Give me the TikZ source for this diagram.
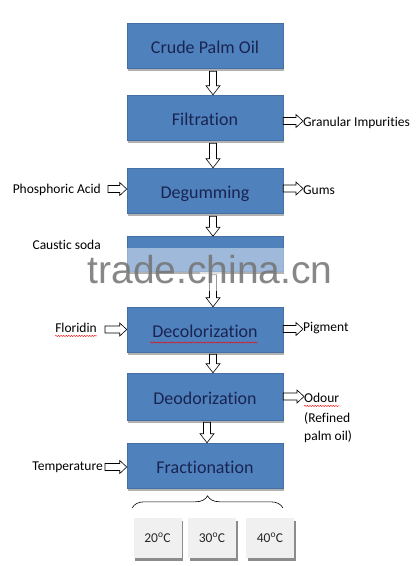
\documentclass[tikz,border=0pt]{standalone}
\usepackage{fontspec}
\setmainfont{Carlito}[Ligatures={NoCommon}]
\newfontfamily\wmfont{Liberation Sans}
\usetikzlibrary{shadows,decorations.pathreplacing,decorations.pathmorphing,calc}
\definecolor{boxblue}{RGB}{79,129,189}
\definecolor{boxedge}{RGB}{68,112,165}
\definecolor{boxtext}{RGB}{26,36,82}
\definecolor{tgray}{RGB}{240,240,240}
\newcommand\varr[2]{\draw[blockarrow] let \p1=(#1), \p2=(#2) in
  (\x1-3.5pt,\y1) -- (\x1-3.5pt,\y2+9pt) -- (\x1-7pt,\y2+9pt) -- (\x1,\y2) --
  (\x1+7pt,\y2+9pt) -- (\x1+3.5pt,\y2+9pt) -- (\x1+3.5pt,\y1) -- cycle;}
\newcommand\harr[2]{\draw[blockarrow] let \p1=(#1), \p2=(#2) in
  (\x1,\y1+3.5pt) -- (\x2-7pt,\y1+3.5pt) -- (\x2-7pt,\y1+6.5pt) -- (\x2,\y1) --
  (\x2-7pt,\y1-6.5pt) -- (\x2-7pt,\y1-3.5pt) -- (\x1,\y1-3.5pt) -- cycle;}
\begin{document}
\begin{tikzpicture}[x=1pt,y=-1pt,
  stage/.style={draw=boxedge, line width=0.5pt, fill=boxblue, minimum width=156pt,
    minimum height=45pt, inner sep=0pt, text=boxtext, font=\fontsize{18}{20}\selectfont,
    text height=19pt, text depth=4pt,
    drop shadow={shadow xshift=1.2pt, shadow yshift=-2.5pt, fill=black, opacity=0.3}},
  lab/.style={font=\fontsize{13.5}{15}\selectfont, inner sep=0pt, text=black},
  tbox/.style={fill=tgray, minimum width=48pt, minimum height=40pt, inner sep=0pt,
    font=\fontsize{13.5}{15}\selectfont, text=black!85,
    drop shadow={shadow xshift=1.5pt, shadow yshift=-3pt, fill=black, opacity=0.45}},
  blockarrow/.style={draw=black, fill=white, line width=0.6pt, line join=miter},
  spell/.style={draw=red, line width=0.4pt, decorate,
    decoration={snake, amplitude=0.6pt, segment length=2.6pt}}]
\useasboundingbox (0,0) rectangle (418,566);
\fill[white] (0,0) rectangle (418,566);

% main stages
\node[stage] (cpo)   at (205,45.5)  {Crude Palm Oil};
\node[stage] (filt)  at (205,117.5) {Filtration};
\node[stage] (deg)   at (205,190.5) {Degumming};
\node[stage, minimum height=35pt] (caus) at (205,254) {};
\node[stage] (decol) at (205,329.5) {Decolorization};
\node[stage, minimum height=47pt] (deod) at (205,396.5) {Deodorization};
\node[stage] (frac)  at (205,465.5) {Fractionation};

% side labels
\node[lab, anchor=west] (gi)   at (303,123) {Granular Impurities};
\node[lab, anchor=west] (gums) at (303,190) {Gums};
\node[lab, anchor=east] (pa)   at (101,190) {Phosphoric Acid};
\node[lab, anchor=east] (cs)   at (101,245) {Caustic soda};
\node[lab, anchor=east] (flo)  at (97,328)  {Floridin};
\node[lab, anchor=west] (pig)  at (303,328) {Pigment};
\node[lab, anchor=west] (od)   at (304,398) {Odour};
\node[lab, anchor=west] (ref1) at (304,418) {(Refined};
\node[lab, anchor=west] (ref2) at (304,437) {palm oil)};
\node[lab, anchor=east] (temp) at (103,467) {Temperature};

% vertical flow arrows
\varr{$(cpo.south)+(8,3)$}{$(filt.north)+(8,0)$}
\varr{$(filt.south)+(8,3)$}{$(deg.north)+(8,0)$}
\varr{$(deg.south)+(8,3)$}{$(caus.north)+(8,0)$}
\varr{$(caus.south)+(8,3)$}{$(decol.north)+(8,0)$}
\varr{$(decol.south)+(8,2)$}{$(deod.north)+(8,0)$}
\varr{$(deod.south)+(2,2)$}{$(frac.north)+(2,0)$}

% horizontal arrows
\harr{$(filt.east)+(0,3.5)$}{gi.west}
\harr{$(deg.east)+(0,-2)$}{gums.west}
\harr{$(pa.east |- deg.west)+(7,-1.5)$}{deg.west}
\harr{$(flo.east |- decol.west)+(8,0)$}{decol.west}
\harr{$(decol.east)+(0,-0.5)$}{pig.west}
\harr{deod.east}{od.west}
\harr{$(temp.east |- frac.west)+(2,1.5)$}{frac.west}

% spelling underlines
\draw[spell] ($(flo.south west)+(0,3)$) -- ($(flo.south east)+(0,3)$);
\draw[spell] ($(decol.center)+(-55,13)$) -- ($(decol.center)+(53,13)$);
\draw[spell] ($(od.south west)+(0,3)$) -- ($(od.south east)+(0,3)$);

% temperature fractions
\node[tbox] (t20) at (157.5,538) {20\textsuperscript{o}C};
\node[tbox] (t30) at (212,538)   {30\textsuperscript{o}C};
\node[tbox] (t40) at (270,538)   {40\textsuperscript{o}C};
\draw[line width=0.6pt, decorate, decoration={brace, amplitude=12pt}]
  ($(t20.north west)+(-1,-10)$) -- ($(t40.north west |- t20.north)+(37,-10)$);

% watermark band
\fill[white, opacity=0.45] (120,248) rectangle (292,272);
\fill[white, opacity=0.6] (200,272) rectangle (225,291);
\node[text=black!55, opacity=0.85, inner sep=0pt, anchor=base,
  font=\wmfont\fontsize{39}{40}\selectfont] (wm) at (210,283) {trade.china.cn};
\end{tikzpicture}
\end{document}
